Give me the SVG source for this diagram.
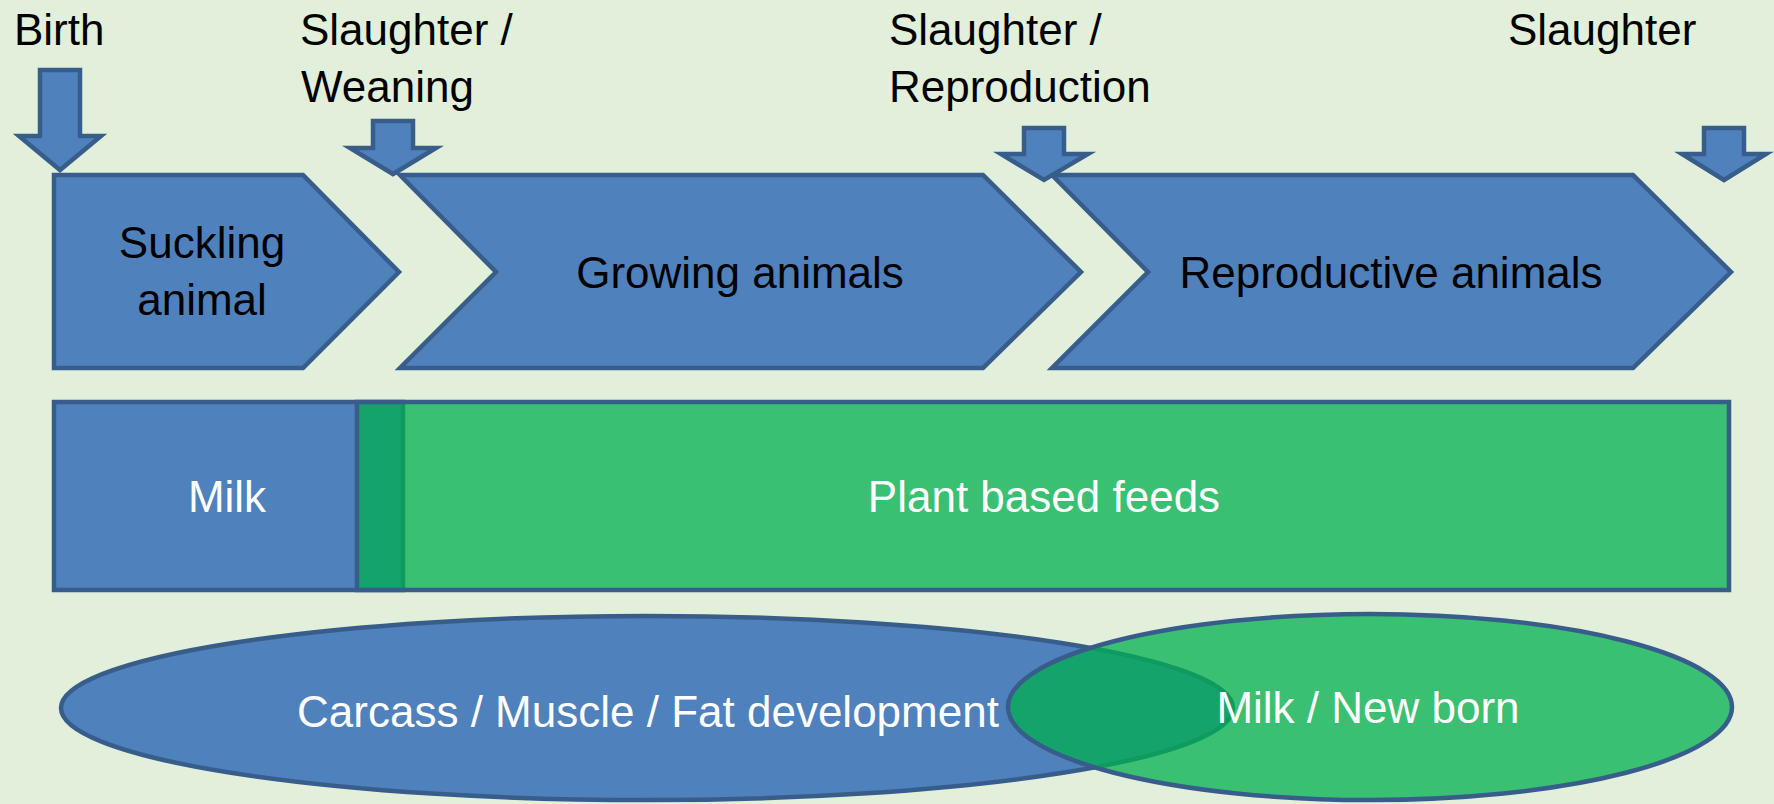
<svg xmlns="http://www.w3.org/2000/svg" width="1774" height="804" viewBox="0 0 1774 804">
<style>
.b{fill:#4F81BD;stroke:#385D8A;stroke-width:4.5;stroke-linejoin:miter}
.g{fill:#00B050;fill-opacity:0.75;stroke:#385D8A;stroke-width:4.5}
text{font-family:"Liberation Sans",Arial,sans-serif;font-size:44px}
.k{fill:#000}
.w{fill:#fff}
.c{text-anchor:middle}
</style>
<rect x="0" y="0" width="1774" height="804" fill="#E2EFDA"/>
<g id="suckling">
<polygon class="b" points="54,175 303,175 399,272 303,368 54,368"/>
<text class="k c" x="202" y="258">Suckling</text>
<text class="k c" x="202" y="315">animal</text>
</g>
<g id="growing">
<polygon class="b" points="400,175 983,175 1081,272 983,368 400,368 496,272"/>
<text class="k c" x="740" y="288">Growing animals</text>
</g>
<g id="reproductive">
<polygon class="b" points="1052,175 1633,175 1731,272 1633,368 1052,368 1148,272"/>
<text class="k c" x="1391" y="288">Reproductive animals</text>
</g>
<g id="connectors">
<polygon class="b" points="40,70 80,70 80,136 101,136 60,170 19,136 40,136"/>
<polygon class="b" points="373,121 413,121 413,148 436,148 393,174 350,148 373,148"/>
<polygon class="b" points="1024,128 1064,128 1064,154 1088,154 1044,180 1001,154 1024,154"/>
<polygon class="b" points="1704,128 1744,128 1744,154 1766,154 1724,180 1682,154 1704,154"/>
</g>
<g id="label-birth"><text class="k" x="14" y="45">Birth</text></g>
<g id="label-weaning"><text class="k" x="300" y="45">Slaughter /</text><text class="k" x="301" y="102">Weaning</text></g>
<g id="label-reproduction"><text class="k" x="889" y="45">Slaughter /</text><text class="k" x="889" y="102">Reproduction</text></g>
<g id="label-slaughter"><text class="k" x="1508" y="45">Slaughter</text></g>
<g id="milk">
<rect class="b" x="54" y="402" width="349" height="188"/>
<text class="w c" x="227" y="512">Milk</text>
</g>
<g id="plant">
<rect class="g" x="357" y="402" width="1372" height="188"/>
<text class="w c" x="1044" y="512">Plant based feeds</text>
</g>
<g id="carcass">
<ellipse class="b" cx="647" cy="708" rx="586" ry="92"/>
</g>
<g id="newborn">
<ellipse class="g" cx="1370" cy="707" rx="362" ry="93"/>
<text class="w c" x="1368" y="723">Milk / New born</text>
</g>
<g id="carcass-label"><text class="w c" x="648" y="727">Carcass / Muscle / Fat development</text></g>
</svg>
